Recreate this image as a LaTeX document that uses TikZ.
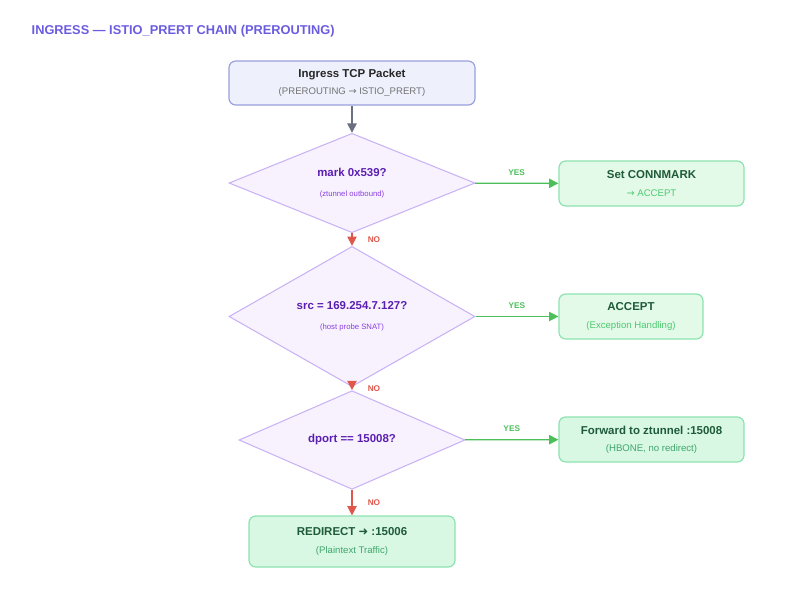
\documentclass[tikz,border=0pt]{standalone}
\usepackage{fontspec}
\setmainfont{Liberation Sans}
\newfontfamily\arr{DejaVu Sans}
\usetikzlibrary{shapes.geometric,arrows.meta}
\newcommand\mfont{\bfseries\fontsize{8.6}{10}\selectfont}
\newcommand\sfont{\mdseries\fontsize{7.2}{9}\selectfont}
\newcommand\dfont{\mdseries\fontsize{5.8}{7}\selectfont}
\definecolor{ttl}{HTML}{6A5CE0}
\definecolor{bfill}{HTML}{EEF0FC}
\definecolor{bdraw}{HTML}{9AA0DC}
\definecolor{dfill}{HTML}{F8F2FF}
\definecolor{ddraw}{HTML}{C9B3F5}
\definecolor{dtext}{HTML}{5B1FB0}
\definecolor{dsub}{HTML}{8A3FE0}
\definecolor{gfill}{HTML}{D8F8E4}
\definecolor{gdraw}{HTML}{8EE2B0}
\definecolor{gtext}{HTML}{1F5A3A}
\definecolor{gsub}{HTML}{3FA56B}
\definecolor{gfill2}{HTML}{E4FAE9}
\definecolor{gsub2}{HTML}{4CC96E}
\definecolor{yes}{HTML}{4CBF5A}
\definecolor{no}{HTML}{E0564A}
\definecolor{grayarr}{HTML}{6B7080}
\begin{document}
\begin{tikzpicture}[x=0.75pt,y=-0.75pt,
  box/.style={draw, rounded corners=5pt, line width=0.9pt, align=center, inner sep=0pt},
  dia/.style={diamond, draw=ddraw, fill=dfill, line width=0.8pt, inner sep=0pt, align=center},
  yesar/.style={draw=yes, line width=1pt, -{Triangle[length=7pt,width=7pt]}},
  noar/.style={draw=no, line width=1pt, -{Triangle[length=7pt,width=7pt]}},
  yl/.style={text=yes, font=\bfseries\fontsize{6.2}{7}\selectfont},
  nl/.style={text=no, font=\bfseries\fontsize{6.2}{7}\selectfont}]
\useasboundingbox (0,0) rectangle (790,594);
\node[anchor=west, text=ttl, font=\bfseries\fontsize{9.6}{11}\selectfont] (title) at (27,31) {INGRESS — ISTIO\_PRERT CHAIN (PREROUTING)};
\node[box, draw=bdraw, fill=bfill, minimum width=246*0.75pt, minimum height=44*0.75pt] (start) at (352,83)
  {\mfont\color{black!85}Ingress TCP Packet\\[1pt]\sfont\color{black!55}(PREROUTING {\arr→} ISTIO\_PRERT)};
\node[dia, minimum width=246*0.75pt, minimum height=97*0.75pt] (d1) at (352,183)
  {\mfont\color{dtext}mark 0x539?\\[3pt]\dfont\color{dsub}(ztunnel outbound)};
\node[box, draw=gdraw, fill=gfill2, minimum width=185*0.75pt, minimum height=45*0.75pt] (b1) at (651.5,183.5)
  {\mfont\color{gtext}Set CONNMARK\\[1pt]\sfont\color{gsub2}{\arr→} ACCEPT};
\node[dia, minimum width=246*0.75pt, minimum height=99*0.75pt] (d2) at (352,316.5)
  {\mfont\color{dtext}src = 169.254.7.127?\\[3pt]\dfont\color{dsub}(host probe SNAT)};
\node[box, draw=gdraw, fill=gfill2, minimum width=144*0.75pt, minimum height=45*0.75pt] (b2) at (631,316.5)
  {\mfont\color{gtext}ACCEPT\\[1pt]\sfont\color{gsub2}(Exception Handling)};
\node[dia, minimum width=226*0.75pt, minimum height=78*0.75pt] (d3) at (352,440)
  {\mfont\color{dtext}dport == 15008?};
\node[box, draw=gdraw, fill=gfill, minimum width=185*0.75pt, minimum height=45*0.75pt] (b3) at (651.5,439.5)
  {\mfont\color{gtext}Forward to ztunnel :15008\\[1pt]\sfont\color{gsub}(HBONE, no redirect)};
\node[box, draw=gdraw, fill=gfill, minimum width=206*0.75pt, minimum height=51*0.75pt] (b4) at (352,541.5)
  {\mfont\color{gtext}REDIRECT {\arr➜} :15006\\[1pt]\sfont\color{gsub}(Plaintext Traffic)};
\draw[draw=grayarr, line width=1pt, -{Triangle[length=7pt,width=7pt]}] (start) -- (d1);
\draw[yesar] (d1) -- (b1) node[yl, midway, above=2pt] (y1) {YES};
\draw[yesar] (d2) -- (b2) node[yl, midway, above=2pt] (y2) {YES};
\draw[yesar] (d3) -- (b3) node[yl, midway, above=2pt] (y3) {YES};
\draw[noar] (d1) -- (d2) node[nl, midway, right=8pt] (n1) {NO};
\draw[noar] (d2) -- (d3) node[nl, midway, right=8pt] (n2) {NO};
\draw[noar] (d3) -- (b4) node[nl, midway, right=8pt] (n3) {NO};
\end{tikzpicture}
\end{document}
